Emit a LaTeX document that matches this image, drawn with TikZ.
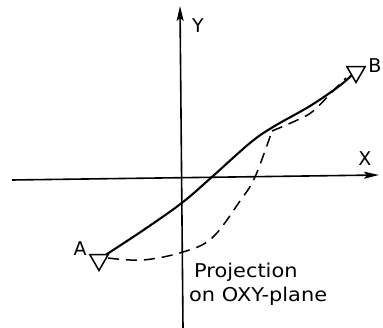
\documentclass[tikz,border=0pt]{standalone}
\usepackage{fontspec}
\setmainfont{DejaVu Sans}
\usetikzlibrary{arrows.meta,shapes.geometric}
\begin{document}
\begin{tikzpicture}[x=1pt,y=-1pt,
  axis/.style={line width=1.6pt,-{Stealth[length=15pt,width=7pt,inset=3pt]}},
  curve/.style={line width=2.1pt},
  dcurve/.style={line width=1.5pt,dash pattern=on 11pt off 7pt},
  marker/.style={draw,line width=1.5pt,fill=white,regular polygon,regular polygon sides=3,shape border rotate=180,minimum size=21pt,inner sep=0pt},
  lbl/.style={font=\fontsize{19}{19}\selectfont,inner sep=0pt}]
\useasboundingbox (0,0) rectangle (383,328);
\coordinate (xs) at (12,180);
\coordinate (xe) at (379,175);
\coordinate (ys) at (183,328);
\coordinate (ye) at (180,6);
\draw[axis] (xs) -- (xe);
\draw[axis] (ys) -- (ye);
\node[lbl] (xl) at (365,159) {X};
\node[lbl] (yl) at (198,26) {Y};
\coordinate (pa) at (104,256);
\coordinate (pb) at (352,75);
\draw[curve] plot[smooth,tension=0.6] coordinates {(pa) (145,229) (183,202) (213,176) (250,143) (273,127) (310,106) (338,87) (pb)};
\draw[dcurve] plot[smooth,tension=0.6] coordinates {(108,258) (143,260) (183,252) (212,238) (240,201) (255,177) (272,131)};
\draw[dcurve] plot[smooth,tension=0.6] coordinates {(272,131) (293,122) (312,112) (333,91) (346,78)};
\node[marker] (ptA) at (99,260) {};
\node[marker] (ptB) at (356,72) {};
\node[lbl] (al) at (80,249) {A};
\node[lbl] (bl) at (375,66) {B};
\node[lbl,anchor=base west,align=left] (cap) at (194,278) {\scalebox{1.1}[1]{Projection}};
\node[lbl,anchor=base west,align=left] (cap2) at (189,302) {\scalebox{1.1}[1]{on OXY-plane}};
\end{tikzpicture}
\end{document}
